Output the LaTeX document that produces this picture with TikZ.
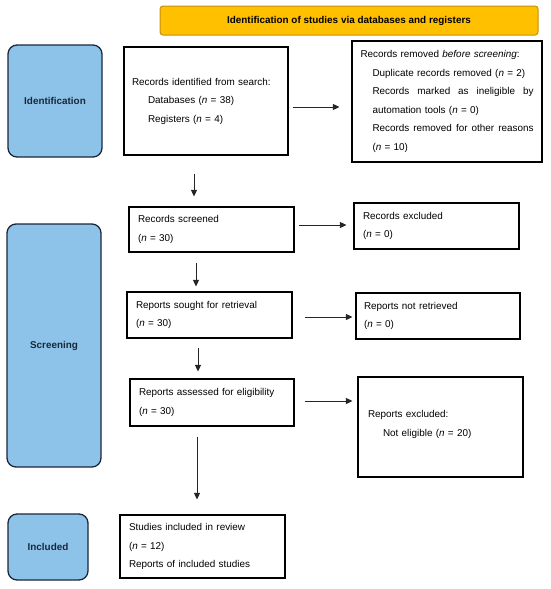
\documentclass[tikz,border=0pt]{standalone}
\usepackage{fontspec}
\setmainfont{Liberation Sans}
\usetikzlibrary{arrows.meta,calc}
\definecolor{stageblue}{RGB}{141,195,233}
\definecolor{stageedge}{RGB}{28,38,58}
\definecolor{bannerfill}{RGB}{255,192,0}
\definecolor{banneredge}{RGB}{196,146,10}
\begin{document}
\begin{tikzpicture}[x=1pt,y=-1pt,
  every node/.style={font=\fontsize{9.9}{18.5}\selectfont},
  stage/.style={draw=stageedge,line width=1.3pt,fill=stageblue,rounded corners=9pt,
    text=stageedge,font=\fontsize{9.9}{12}\selectfont\bfseries,align=center},
  flowbox/.style={draw=black,line width=1.1pt,fill=white,align=left,inner ysep=0pt},
  banner/.style={draw=banneredge,line width=1pt,fill=bannerfill,rounded corners=3pt,
    font=\fontsize{9.9}{12}\selectfont\bfseries},
  arr/.style={draw=black!85,line width=0.8pt,-{Triangle[length=6.5pt,width=6pt]}}]
\useasboundingbox (0,0) rectangle (550,589);

\node[banner,minimum width=378pt,minimum height=29pt] (banner) at (349,20.5)
  {Identification of studies via databases and registers};

\node[stage,minimum width=94pt,minimum height=112pt] (idlab) at (55,101) {Identification};
\node[stage,minimum width=94pt,minimum height=243pt] (scrlab) at (54,345.5) {Screening};
\node[stage,minimum width=80pt,minimum height=66pt] (inclab) at (48,547) {Included};

\node[flowbox,minimum width=164pt,minimum height=108pt,inner xsep=8pt,text width=148pt] (ident) at (206,101)
  {Records identified from search:\\
   \hspace*{16pt}Databases (\textit{n} = 38)\\
   \hspace*{16pt}Registers (\textit{n} = 4)};

\node[flowbox,minimum width=190pt,minimum height=121pt,inner xsep=8.5pt,text width=173pt] (removed) at (447,101.5)
  {Records removed \textit{before screening}:\\
   \hspace*{12pt}Duplicate records removed (\textit{n} = 2)\\
   \hspace*{12pt}\makebox[161pt]{Records\hfill marked\hfill as\hfill ineligible\hfill by}\\
   \hspace*{12pt}automation tools (\textit{n} = 0)\\
   \hspace*{12pt}\makebox[161pt]{Records\hfill removed\hfill for\hfill other\hfill reasons}\\
   \hspace*{12pt}(\textit{n} = 10)};

\node[flowbox,minimum width=165pt,minimum height=45pt,inner xsep=9pt,text width=147pt] (screened) at (211.5,229.5)
  {Records screened\\(\textit{n} = 30)};
\node[flowbox,minimum width=165pt,minimum height=46pt,inner xsep=9pt,text width=147pt] (excl) at (436.5,226)
  {Records excluded\\(\textit{n} = 0)};
\node[flowbox,minimum width=165pt,minimum height=46pt,inner xsep=9pt,text width=147pt] (sought) at (209.5,315)
  {Reports sought for retrieval\\(\textit{n} = 30)};
\node[flowbox,minimum width=164pt,minimum height=46pt,inner xsep=8pt,text width=148pt] (notret) at (438,316)
  {Reports not retrieved\\(\textit{n} = 0)};
\node[flowbox,minimum width=164pt,minimum height=47pt,inner xsep=9pt,text width=146pt] (assessed) at (212,402.5)
  {Reports assessed for eligibility\\(\textit{n} = 30)};
\node[flowbox,minimum width=165pt,minimum height=100pt,inner xsep=10pt,text width=145pt] (repexcl) at (440.5,427)
  {\raisebox{7pt}{Reports excluded:}\\
   \hspace*{15pt}\raisebox{7pt}{Not eligible (\textit{n} = 20)}};
\node[flowbox,minimum width=165pt,minimum height=63pt,inner xsep=9pt,text width=147pt] (included) at (202.5,546.5)
  {Studies included in review\\(\textit{n} = 12)\\Reports of included studies};

\draw[arr] ($(ident.east)+(4,6)$) -- ($(removed.west)+(-12,5.5)$);
\draw[arr] ($(ident.south)+(-12,18)$) -- ($(screened.north)+(-17.5,-10)$);
\draw[arr] ($(screened.east)+(4,-4.5)$) -- ($(excl.west)+(-7,-1)$);
\draw[arr] ($(screened.south)+(-15.5,10)$) -- ($(sought.north)+(-13.5,-5)$);
\draw[arr] ($(sought.east)+(12,2)$) -- ($(notret.west)+(-3,1)$);
\draw[arr] ($(sought.south)+(-11.5,9)$) -- ($(assessed.north)+(-14,-7)$);
\draw[arr] ($(assessed.east)+(10,-1.5)$) -- ($(repexcl.west)+(-5,-26)$);
\draw[arr] ($(assessed.south)+(-15,10)$) -- ($(included.north)+(-5.5,-15)$);
\end{tikzpicture}
\end{document}
